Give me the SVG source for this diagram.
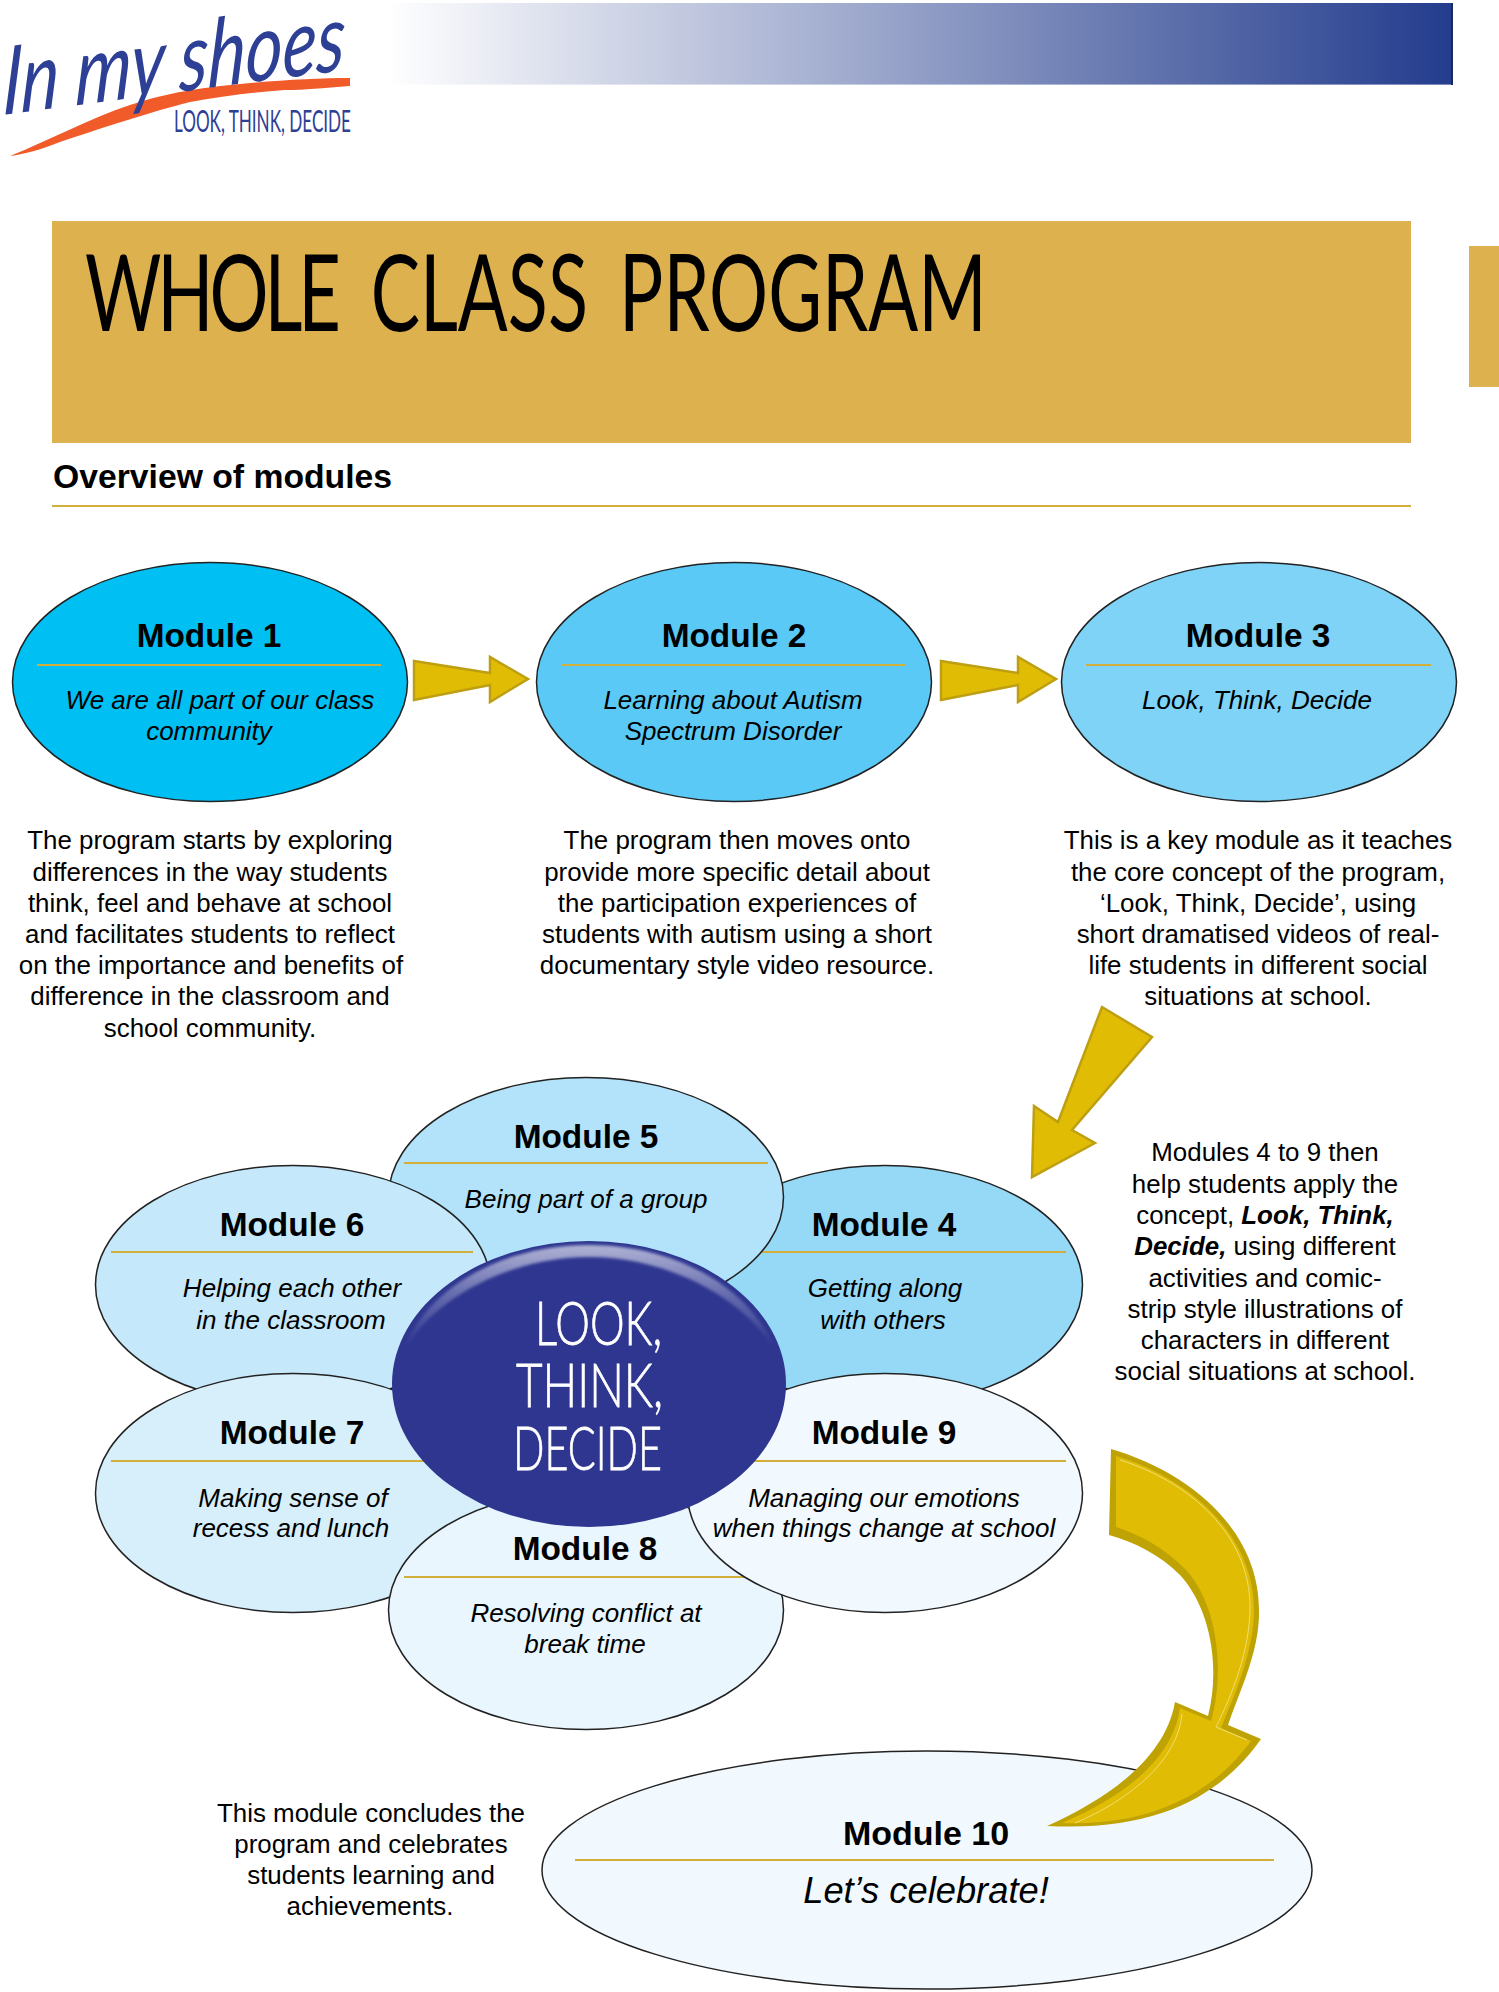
<svg xmlns="http://www.w3.org/2000/svg" width="1499" height="1992" viewBox="0 0 1499 1992">
<style>
text{font-family:"Liberation Sans",Arial,sans-serif;fill:#000}
.h{font-weight:700;font-size:33.4px;text-anchor:middle}
.i{font-style:italic;font-size:26px;text-anchor:middle}
.b{font-size:25.9px;text-anchor:middle}
.e{stroke:#222;stroke-width:1.5}
.l{stroke:#D2AE3A;stroke-width:2;fill:none}
.a{fill:#E0BC05;stroke:#BE9F12;stroke-width:2.5;stroke-linejoin:miter}
.c{font-family:Lato,"Open Sans",sans-serif;font-weight:300;font-size:62px;fill:#fff;stroke:#fff;stroke-width:.8}
</style>
<defs>
<linearGradient id="bar" x1="0" x2="1" y1="0" y2="0"><stop offset="0" stop-color="#fff"/><stop offset="1" stop-color="#233C8D"/></linearGradient>
<linearGradient id="hi" x1="0" x2="0" y1="0" y2="1"><stop offset="0" stop-color="#fff" stop-opacity=".62"/><stop offset=".5" stop-color="#fff" stop-opacity=".25"/><stop offset="1" stop-color="#fff" stop-opacity="0"/></linearGradient>
<filter id="bl" x="-10%" y="-10%" width="120%" height="120%"><feGaussianBlur stdDeviation="1.6"/></filter>
<filter id="soft" x="-10%" y="-10%" width="120%" height="120%"><feGaussianBlur stdDeviation=".7"/></filter>
</defs>
<rect width="1499" height="1992" fill="#fff"/>
<g id="header">
<rect x="387" y="3" width="1066" height="81" fill="url(#bar)"/>
<rect x="387" y="83" width="1066" height="2" fill="url(#bar)" opacity=".6"/>
<path d="M1452 3V85" stroke="#18295f" stroke-width="2"/>
</g>
<g id="logo">
<path d="M10 156C50 140 90 118 130 105C170 92 200 88 240 84C280 80 320 78 350 78L350 86C322 88 305 90 285 90C255 92 225 96 190 102C150 112 90 132 60 142C40 150 25 154 10 156Z" fill="#F15A29"/>
<text transform="translate(2 115) rotate(-7.5) skewX(-10)" style="font-family:Lato,sans-serif;font-style:italic;font-size:94px;fill:#2E4095;font-weight:400" textLength="345" lengthAdjust="spacingAndGlyphs">In my shoes</text>
<text x="174" y="132" style="font-family:Lato,sans-serif;font-size:31px;fill:#2E4095" textLength="177" lengthAdjust="spacingAndGlyphs">LOOK, THINK, DECIDE</text>
</g>
<g id="banner">
<rect x="52" y="221" width="1359" height="222" fill="#DEB14F"/>
<rect x="1469" y="246" width="30" height="141" fill="#DEB14F"/>
<text transform="translate(85 331) scale(.69 1)" style="font-family:Lato,sans-serif;font-size:107px"><tspan x="0" style="letter-spacing:-6px">WHOLE </tspan><tspan x="414">CLASS </tspan><tspan x="774">PROGRAM</tspan></text>
</g>
<g id="overview">
<text x="53" y="488" style="font-weight:700;font-size:33px" textLength="339" lengthAdjust="spacingAndGlyphs">Overview of modules</text>
<path class="l" d="M52 506H1411"/>
</g>
<g id="connectors">
<path class="a" d="M414 661L490 673V657L528 679L490 702V685L414 700Z"/>
<path class="a" d="M941 661L1018 673V657L1056 679L1018 702V685L941 700Z"/>
<path class="a" d="M1102 1007L1152 1037L1072 1130L1095 1143L1032 1177L1034 1106L1058 1122Z"/>
</g>
<g id="module1"><ellipse class="e" cx="210" cy="682" rx="197.5" ry="119.5" fill="#00BFF3"/><text class="h" x="209" y="647">Module 1</text><path class="l" d="M37 665H381"/><text class="i" x="220" y="709">We are all part of our class</text><text class="i" x="209" y="740">community</text></g>
<g id="module2"><ellipse class="e" cx="734" cy="682" rx="197.5" ry="119.5" fill="#5BC9F6"/><text class="h" x="734" y="647">Module 2</text><path class="l" d="M562 665H906"/><text class="i" x="733" y="709">Learning about Autism</text><text class="i" x="733" y="740">Spectrum Disorder</text></g>
<g id="module3"><ellipse class="e" cx="1259" cy="682" rx="197.5" ry="119.5" fill="#7FD3F7"/><text class="h" x="1258" y="647">Module 3</text><path class="l" d="M1086 665H1431"/><text class="i" x="1257" y="709">Look, Think, Decide</text></g>
<g id="desc1"><text class="b" x="210" y="849">The program starts by exploring</text><text class="b" x="210" y="881">differences in the way students</text><text class="b" x="210" y="912">think, feel and behave at school</text><text class="b" x="210" y="943">and facilitates students to reflect</text><text class="b" x="211" y="974">on the importance and benefits of</text><text class="b" x="210" y="1005">difference in the classroom and</text><text class="b" x="210" y="1037">school community.</text></g>
<g id="desc2"><text class="b" x="737" y="849">The program then moves onto</text><text class="b" x="737" y="881">provide more specific detail about</text><text class="b" x="737" y="912">the participation experiences of</text><text class="b" x="737" y="943">students with autism using a short</text><text class="b" x="737" y="974">documentary style video resource.</text></g>
<g id="desc3"><text class="b" x="1258" y="849">This is a key module as it teaches</text><text class="b" x="1258" y="881">the core concept of the program,</text><text class="b" x="1258" y="912">‘Look, Think, Decide’, using</text><text class="b" x="1258" y="943">short dramatised videos of real-</text><text class="b" x="1258" y="974">life students in different social</text><text class="b" x="1258" y="1005">situations at school.</text></g>
<g id="module4"><ellipse class="e" cx="885" cy="1285" rx="197.5" ry="119.5" fill="#96D9F6"/><text class="h" x="884" y="1236">Module 4</text><path class="l" d="M704 1252H1066"/><text class="i" x="885" y="1297">Getting along</text><text class="i" x="883" y="1329">with others</text></g>
<g id="module5"><ellipse class="e" cx="586" cy="1197" rx="197.5" ry="119.5" fill="#B2E3FA"/><text class="h" x="586" y="1148">Module 5</text><path class="l" d="M404 1163H768"/><text class="i" x="586" y="1208">Being part of a group</text></g>
<g id="module6"><ellipse class="e" cx="293" cy="1285" rx="197.5" ry="119.5" fill="#C5E8FA"/><text class="h" x="292" y="1236">Module 6</text><path class="l" d="M111 1252H473"/><text class="i" x="292" y="1297">Helping each other</text><text class="i" x="291" y="1329">in the classroom</text></g>
<g id="module7"><ellipse class="e" cx="293" cy="1493" rx="197.5" ry="119.5" fill="#D6EFFB"/><text class="h" x="292" y="1444">Module 7</text><path class="l" d="M111 1461H473"/><text class="i" x="293" y="1507">Making sense of</text><text class="i" x="291" y="1537">recess and lunch</text></g>
<g id="module8"><ellipse class="e" cx="586" cy="1610" rx="197.5" ry="119.5" fill="#E9F6FD"/><text class="h" x="585" y="1560">Module 8</text><path class="l" d="M404 1577H768"/><text class="i" x="586" y="1622">Resolving conflict at</text><text class="i" x="585" y="1653">break time</text></g>
<g id="module9"><ellipse class="e" cx="885" cy="1493" rx="197.5" ry="119.5" fill="#F1F9FE"/><text class="h" x="884" y="1444">Module 9</text><path class="l" d="M704 1461H1066"/><text class="i" x="884" y="1507">Managing our emotions</text><text class="i" x="884" y="1537">when things change at school</text></g>
<g id="centre">
<ellipse cx="589" cy="1384" rx="197" ry="143" fill="#2E3690"/>
<path d="M404 1350C425 1290 500 1245 589 1245C678 1245 753 1290 775 1350C745 1300 670 1257 589 1257C508 1257 433 1300 404 1350Z" fill="url(#hi)" filter="url(#bl)"/>
<text class="c" x="535" y="1345" textLength="127" lengthAdjust="spacingAndGlyphs">LOOK,</text>
<text class="c" x="516" y="1407" textLength="147" lengthAdjust="spacingAndGlyphs">THINK,</text>
<text class="c" x="513" y="1470" textLength="149" lengthAdjust="spacingAndGlyphs">DECIDE</text>
</g>
<g id="desc4"><text class="b" x="1265" y="1161">Modules 4 to 9 then</text><text class="b" x="1265" y="1193">help students apply the</text><text class="b" x="1265" y="1224">concept, <tspan font-weight="700" font-style="italic">Look, Think,</tspan></text><text class="b" x="1265" y="1255"><tspan font-weight="700" font-style="italic">Decide,</tspan> using different</text><text class="b" x="1265" y="1287">activities and comic-</text><text class="b" x="1265" y="1318">strip style illustrations of</text><text class="b" x="1265" y="1349">characters in different</text><text class="b" x="1265" y="1380">social situations at school.</text></g>
<g id="module10"><ellipse class="e" cx="927" cy="1870" rx="385" ry="119" fill="#F1F9FE"/><text class="h" x="926" y="1845" style="font-size:34px">Module 10</text><path class="l" d="M575 1860H1274"/><text x="926" y="1903" style="font-style:italic;font-size:36.3px;text-anchor:middle">Let’s celebrate!</text></g>
<g id="desc10"><text class="b" x="371" y="1822">This module concludes the</text><text class="b" x="371" y="1853">program and celebrates</text><text class="b" x="371" y="1884">students learning and</text><text class="b" x="370" y="1915">achievements.</text></g>
<g id="curved-arrow">
<path d="M1111 1449C1190 1472 1259 1530 1259 1610C1260 1650 1240 1690 1228 1725L1261 1739C1225 1790 1165 1832 1047 1826C1105 1800 1165 1760 1175 1702L1208 1716C1220 1670 1212 1610 1180 1575C1160 1555 1135 1542 1109 1535Z" fill="#BFA204"/>
<path d="M1116 1456C1190 1478 1254 1535 1254 1610C1254 1650 1236 1692 1221 1728L1251 1741C1220 1784 1162 1827 1062 1823C1120 1798 1172 1762 1180 1708L1211 1721C1225 1672 1218 1605 1186 1570C1165 1548 1140 1535 1116 1527Z" fill="#E0BC05"/>
<path d="M1120 1460C1190 1482 1250 1535 1250 1607C1250 1650 1232 1695 1216 1727L1247 1740M1075 1823C1130 1800 1178 1760 1182 1714" fill="none" stroke="#F0DE70" stroke-width="1" filter="url(#soft)"/>
</g>
</svg>
